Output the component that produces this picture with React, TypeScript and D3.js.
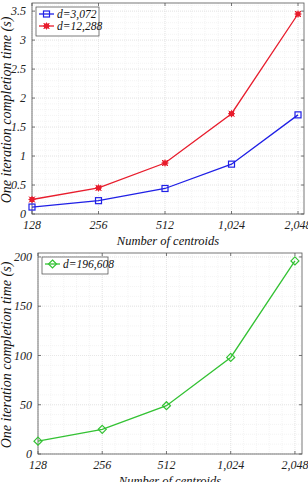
import * as d3 from "d3";

const centroids = [128, 256, 512, 1024, 2048];
const xTickLabels = ["128", "256", "512", "1,024", "2,048"];
const timeD3072 = [0.12, 0.23, 0.44, 0.86, 1.71];
const timeD12288 = [0.25, 0.45, 0.88, 1.73, 3.45];
const timeD196608 = [13, 25, 49, 98, 196];
const topYTicks = [0, 0.5, 1, 1.5, 2, 2.5, 3, 3.5];
const bottomYTicks = [0, 50, 100, 150, 200];

const font = "'Liberation Serif', 'Times New Roman', serif";

type Series = { name: string; values: number[]; color: string; marker: string };

function Panel({
  left, right, top, bottom, xMaxFactor, yMax, yTicks, series, legendW, labelY,
}: {
  left: number; right: number; top: number; bottom: number; xMaxFactor: number;
  yMax: number; yTicks: number[]; series: Series[]; legendW: number; labelY: number;
}) {
  const x = d3.scaleLog().base(2).domain([128, 2048 * xMaxFactor]).range([left, right]);
  const y = d3.scaleLinear().domain([0, yMax]).range([bottom, top]);
  const line = d3.line<number>().x((_, i) => x(centroids[i])).y((d) => y(d));
  const minorY = d3.range(0, yMax, (yTicks[1] - yTicks[0]) / 5);
  const minorX = d3.range(0, 4.0001 + Math.log2(xMaxFactor), 0.2).map((k) => 128 * Math.pow(2, k));

  const marker = (s: Series, cx: number, cy: number, key: number) => {
    if (s.marker === "square")
      return <rect key={key} x={cx - 3} y={cy - 3} width={6} height={6} fill="none" stroke={s.color} strokeWidth={1.2} />;
    if (s.marker === "star")
      return (
        <g key={key}>
          <rect x={cx - 2.5} y={cy - 2.5} width={5} height={5} fill={s.color} />
          <path d={`M${cx - 3.5},${cy}H${cx + 3.5}M${cx},${cy - 3.5}V${cy + 3.5}M${cx - 3},${cy - 3}L${cx + 3},${cy + 3}M${cx - 3},${cy + 3}L${cx + 3},${cy - 3}`} stroke={s.color} strokeWidth={1} />
        </g>
      );
    return <path key={key} d={`M${cx},${cy - 4}L${cx + 4},${cy}L${cx},${cy + 4}L${cx - 4},${cy}Z`} fill="none" stroke={s.color} strokeWidth={1.2} />;
  };

  return (
    <g fontFamily={font} fontStyle="italic">
      <rect x={left} y={top} width={right - left} height={bottom - top} fill="white" />
      {minorY.map((v, i) => (
        <line key={"my" + i} x1={left} x2={right} y1={y(v)} y2={y(v)} stroke="#ececec" strokeWidth={0.6} strokeDasharray="1,1" />
      ))}
      {minorX.map((v, i) => (
        <line key={"mx" + i} x1={x(v)} x2={x(v)} y1={top} y2={bottom} stroke="#ececec" strokeWidth={0.6} strokeDasharray="1,1" />
      ))}
      {yTicks.map((v) => (
        <line key={"gy" + v} x1={left} x2={right} y1={y(v)} y2={y(v)} stroke="#dcdcdc" strokeWidth={0.6} strokeDasharray="1,1" />
      ))}
      {centroids.map((v) => (
        <line key={"gx" + v} x1={x(v)} x2={x(v)} y1={top} y2={bottom} stroke="#dcdcdc" strokeWidth={0.6} strokeDasharray="1,1" />
      ))}
      <rect x={left} y={top} width={right - left} height={bottom - top} fill="none" stroke="#555" strokeWidth={0.8} />
      {yTicks.map((v) => (
        <g key={"ty" + v}>
          <line x1={left} x2={left + 3} y1={y(v)} y2={y(v)} stroke="#555" strokeWidth={0.8} />
          <line x1={right} x2={right - 3} y1={y(v)} y2={y(v)} stroke="#555" strokeWidth={0.8} />
          <text x={left - 6} y={y(v)} dy="0.35em" textAnchor="end" fontSize={12} fill="#222">{v}</text>
        </g>
      ))}
      {centroids.map((v, i) => (
        <g key={"tx" + v}>
          <line x1={x(v)} x2={x(v)} y1={bottom} y2={bottom - 3} stroke="#555" strokeWidth={0.8} />
          <line x1={x(v)} x2={x(v)} y1={top} y2={top + 3} stroke="#555" strokeWidth={0.8} />
          <text x={x(v)} y={bottom + 15} textAnchor="middle" fontSize={12} fill="#222">{xTickLabels[i]}</text>
        </g>
      ))}
      {series.map((s) => (
        <g key={s.name}>
          <path d={line(s.values) ?? ""} fill="none" stroke={s.color} strokeWidth={1.3} />
          {s.values.map((v, i) => marker(s, x(centroids[i]), y(v), i))}
        </g>
      ))}
      <rect x={left + 4} y={top + 4} width={legendW} height={series.length * 12 + 5} fill="white" stroke="#444" strokeWidth={0.7} />
      {series.map((s, i) => {
        const ly = top + 11 + i * 12;
        return (
          <g key={"lg" + s.name}>
            <line x1={left + 7} x2={left + 22} y1={ly} y2={ly} stroke={s.color} strokeWidth={1.3} />
            {marker(s, left + 14.5, ly, 99)}
            <text x={left + 25} y={ly} dy="0.35em" fontSize={11.5} fill="#111">{s.name}</text>
          </g>
        );
      })}
      <text x={(left + right) / 2} y={bottom + 31} textAnchor="middle" fontSize={12.5} fill="#111">Number of centroids</text>
      <text transform={`translate(11,${labelY}) rotate(-90)`} textAnchor="middle" fontSize={14} fill="#111">One iteration completion time (s)</text>
    </g>
  );
}

export default function App() {
  return (
    <svg width={308} height={482} style={{ position: "absolute", left: 0, top: 0 }}>
      <rect width={308} height={482} fill="white" />
      <Panel left={32} right={304} top={3} bottom={214} xMaxFactor={Math.pow(2, 0.09)} yMax={3.64}
        yTicks={topYTicks} legendW={63} labelY={110}
        series={[
          { name: "d=3,072", values: timeD3072, color: "#1f1fe6", marker: "square" },
          { name: "d=12,288", values: timeD12288, color: "#e81c2c", marker: "star" },
        ]} />
      <Panel left={38} right={302} top={253} bottom={454} xMaxFactor={Math.pow(2, 0.11)} yMax={204}
        yTicks={bottomYTicks} legendW={66} labelY={355}
        series={[{ name: "d=196,608", values: timeD196608, color: "#33c233", marker: "diamond" }]} />
    </svg>
  );
}
